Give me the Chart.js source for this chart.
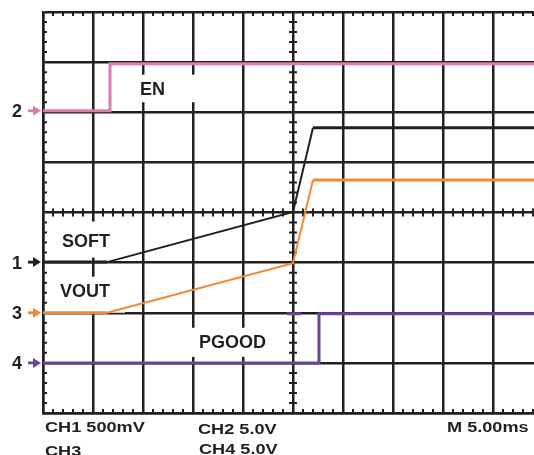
<!DOCTYPE html>
<html>
<head>
<meta charset="utf-8">
<script src="https://cdn.jsdelivr.net/npm/chart.js@4"></script>
<style>
  html, body { margin: 0; padding: 0; background: #fff; overflow: hidden; }
  #wrap { width: 545px; height: 455px; position: relative; }
</style>
</head>
<body>
<div id="wrap"><canvas id="myChart"></canvas></div>
<script>
(function () {
  'use strict'

// time in ms (5 ms / div), level in divisions from the bottom of the screen
var enT = [0, 6.7, 6.7, 50]
var enV = [6.03, 6.03, 6.97, 6.97]

var softT = [0, 6.4, 25, 27.0, 50]
var softV = [3.01, 3.01, 4.01, 5.69, 5.69]

var voutT = [0, 6.4, 25, 27.0, 50]
var voutV = [2.0, 2.0, 2.99, 4.65, 4.65]

var pgoodT = [0, 27.6, 27.6, 50]
var pgoodV = [1.0, 1.0, 1.98, 1.98]

var glitchT = [24.4, 25.8]
var glitchV = [1.98, 1.98]

var traceLabels = [
  { text: 'EN', x: 9.7, y: 6.35, box: [7.7, 15.5, 6.2, 6.75] },
  { text: 'SOFT', x: 1.9, y: 3.32, box: [0.9, 8.2, 3.1, 3.82] },
  { text: 'VOUT', x: 1.7, y: 2.32, box: [0.9, 8.2, 2.0, 2.72] },
  { text: 'PGOOD', x: 15.6, y: 1.3, box: [14.2, 22.7, 1.12, 1.7] }
]

var markers = [
  { num: '2', y: 6.03, color: '#d67ead' },
  { num: '1', y: 3.01, color: '#231f20' },
  { num: '3', y: 2.0, color: '#f08a34' },
  { num: '4', y: 1.0, color: '#6c4594' }
]

var footer = [
  { text: 'CH1 500mV', x: 45, y: 432 },
  { text: 'CH3', x: 45, y: 456 },
  { text: 'CH2 5.0V', x: 198, y: 434 },
  { text: 'CH4 5.0V', x: 199, y: 454 },
  { text: 'M 5.00ms', x: 447, y: 432 }
]

function pts(t, v) {
  return t.map(function (x, i) { return { x: x, y: v[i] } })
}

var INK = '#231f20'

function segW(ctx) {
  var a = ctx.p0.parsed, b = ctx.p1.parsed
  return (a.x !== b.x && a.y !== b.y) ? 2 : 3
}

function trace(label, data, color) {
  return {
    label: label,
    data: data,
    borderColor: color,
    borderWidth: 3,
    pointRadius: 0,
    fill: false,
    tension: 0,
    segment: { borderWidth: segW }
  }
}

var scopeDecor = {
  id: 'scopeDecor',
  beforeDatasetsDraw: function (chart) {
    var c = chart.ctx, xs = chart.scales.x, ys = chart.scales.y
    var a = chart.chartArea
    c.save()
    c.strokeStyle = INK
    c.lineWidth = 2
    var cy = ys.getPixelForValue(4), cx = xs.getPixelForValue(25)
    for (var t = 0; t <= 50; t += 1) {
      if (t % 5 === 0) continue
      var px = xs.getPixelForValue(t)
      c.beginPath()
      c.moveTo(px, a.top); c.lineTo(px, a.top + 4)
      c.moveTo(px, a.bottom); c.lineTo(px, a.bottom - 4)
      c.moveTo(px, cy - 4); c.lineTo(px, cy + 4)
      c.stroke()
    }
    for (var d = 0; d <= 40; d += 1) {
      if (d % 5 === 0) continue
      var py = ys.getPixelForValue(d / 5)
      c.beginPath()
      c.moveTo(a.left, py); c.lineTo(a.left + 4, py)
      c.moveTo(cx - 4, py); c.lineTo(cx + 4, py)
      c.stroke()
    }
    // label boxes hide the grid under the trace names
    c.font = 'bold 18px "Liberation Sans", Arial, sans-serif'
    c.textBaseline = 'alphabetic'
    traceLabels.forEach(function (l) {
      var x0 = xs.getPixelForValue(l.box[0]), x1 = xs.getPixelForValue(l.box[1])
      var y0 = ys.getPixelForValue(l.box[3]), y1 = ys.getPixelForValue(l.box[2])
      c.fillStyle = '#fff'
      c.fillRect(x0, y0, x1 - x0, y1 - y0)
      c.fillStyle = INK
      c.fillText(l.text, xs.getPixelForValue(l.x), ys.getPixelForValue(l.y))
    })
    c.restore()
  },
  afterDraw: function (chart) {
    var c = chart.ctx, ys = chart.scales.y
    c.save()
    c.font = 'bold 18px "Liberation Sans", Arial, sans-serif'
    markers.forEach(function (m) {
      var py = ys.getPixelForValue(m.y)
      c.fillStyle = INK
      c.fillText(m.num, 12, py + 6.5)
      c.fillStyle = m.color
      c.fillRect(28, py - 1.4, 6, 2.8)
      c.beginPath()
      c.moveTo(33, py - 5); c.lineTo(41, py); c.lineTo(33, py + 5)
      c.closePath()
      c.fill()
    })
    c.fillStyle = INK
    c.font = 'bold 15.5px "Liberation Sans", Arial, sans-serif'
    footer.forEach(function (f) {
      c.save()
      c.translate(f.x, f.y)
      c.scale(1.17, 1)
      c.fillText(f.text, 0, 0)
      c.restore()
    })
    c.restore()
  }
}

const ctx = document.getElementById('myChart').getContext('2d')

new Chart(ctx, {
  type: 'line',
  data: {
    datasets: [
      trace('PGOOD', pts(pgoodT, pgoodV), '#6c4594'),
      trace('', pts(glitchT, glitchV), '#6c4594'),
      trace('VOUT', pts(voutT, voutV), '#f08a34'),
      trace('SOFT', pts(softT, softV), INK),
      trace('EN', pts(enT, enV), '#d67ead')
    ]
  },
  options: {
    responsive: true,
    maintainAspectRatio: false,
    animation: false,
    layout: { padding: { left: 43, top: 12, right: 2, bottom: 42 } },
    plugins: { legend: { display: false }, tooltip: { enabled: false } },
    scales: {
      x: {
        type: 'linear', min: 0, max: 50,
        ticks: { display: false, stepSize: 5 },
        grid: { color: INK, lineWidth: 2.5, drawTicks: false },
        border: { color: INK, width: 2.5 }
      },
      y: {
        type: 'linear', min: 0, max: 8,
        ticks: { display: false, stepSize: 1 },
        grid: { color: INK, lineWidth: 2.5, drawTicks: false },
        border: { color: INK, width: 2.5 }
      }
    }
  },
  plugins: [scopeDecor]
})

})()
</script>
</body>
</html>
